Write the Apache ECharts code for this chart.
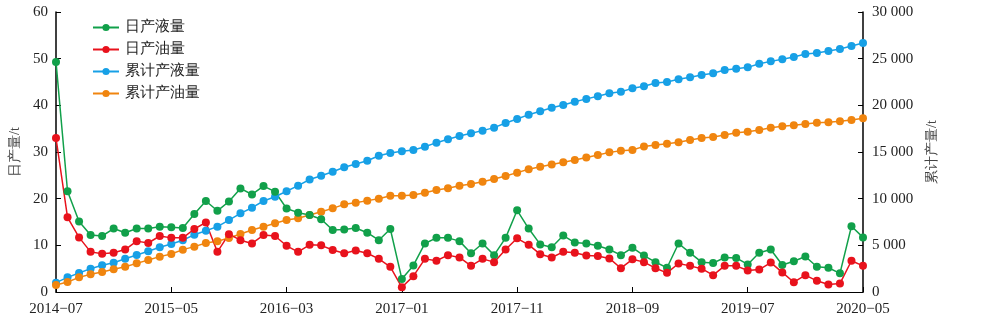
<!DOCTYPE html>
<html><head><meta charset="utf-8">
<script src="https://cdn.jsdelivr.net/npm/echarts@6/dist/echarts.min.js"></script>
<style>html,body{margin:0;padding:0;background:#fff}#c{width:1000px;height:328px}</style>
</head><body><div id="c"></div>
<script>
const months = [
'2014−07','2014−08','2014−09','2014−10','2014−11','2014−12',
'2015−01','2015−02','2015−03','2015−04','2015−05','2015−06','2015−07','2015−08','2015−09','2015−10','2015−11','2015−12',
'2016−01','2016−02','2016−03','2016−04','2016−05','2016−06','2016−07','2016−08','2016−09','2016−10','2016−11','2016−12',
'2017−01','2017−02','2017−03','2017−04','2017−05','2017−06','2017−07','2017−08','2017−09','2017−10','2017−11','2017−12',
'2018−01','2018−02','2018−03','2018−04','2018−05','2018−06','2018−07','2018−08','2018−09','2018−10','2018−11','2018−12',
'2019−01','2019−02','2019−03','2019−04','2019−05','2019−06','2019−07','2019−08','2019−09','2019−10','2019−11','2019−12',
'2020−01','2020−02','2020−03','2020−04','2020−05'];
const dailyLiquid = [49.3,21.6,15.1,12.2,12.0,13.6,12.7,13.6,13.6,14.0,13.9,13.7,16.7,19.5,17.4,19.4,22.2,20.9,22.7,21.5,17.9,17.0,16.5,15.6,13.3,13.4,13.7,12.7,11.1,13.5,2.8,5.7,10.4,11.6,11.6,10.9,8.3,10.4,7.9,11.6,17.5,13.6,10.2,9.6,12.1,10.6,10.4,9.9,9.1,7.9,9.5,7.8,6.4,5.2,10.4,8.4,6.4,6.2,7.4,7.3,5.9,8.4,9.1,5.8,6.6,7.6,5.4,5.2,4.0,14.1,11.7];
const dailyOil = [33.0,16.0,11.7,8.6,8.2,8.4,9.1,10.9,10.5,12.0,11.6,11.6,13.5,14.9,8.6,12.4,11.1,10.4,12.2,12.0,9.9,8.6,10.1,10.0,9.0,8.3,8.9,8.3,7.1,5.4,1.0,3.4,7.1,6.7,7.9,7.4,5.6,7.1,6.4,9.1,11.5,10.1,8.1,7.4,8.6,8.4,7.8,7.7,7.2,5.1,7.0,6.4,5.1,4.1,6.1,5.6,5.0,3.6,5.6,5.6,4.6,4.8,6.3,4.2,2.1,3.6,2.4,1.6,1.8,6.7,5.6];
const cumLiquid = [1000,1570,2030,2500,2860,3140,3570,3960,4360,4790,5140,5540,6140,6570,7000,7710,8430,9030,9750,10210,10790,11390,12050,12450,12890,13360,13710,14060,14600,14890,15070,15210,15570,16000,16360,16710,17000,17290,17610,18110,18540,19000,19360,19750,20040,20390,20690,20980,21290,21460,21820,22040,22390,22500,22790,23000,23250,23430,23790,23930,24070,24460,24710,24930,25180,25500,25610,25820,26040,26360,26680];
const cumOil = [750,1070,1570,1890,2140,2430,2710,3070,3430,3790,4070,4540,4860,5250,5430,5790,6210,6640,7000,7360,7710,7900,8250,8600,8960,9390,9570,9790,10000,10320,10320,10390,10640,10930,11110,11390,11570,11820,12110,12430,12790,13150,13420,13650,13910,14140,14410,14680,14960,15140,15210,15600,15750,15890,16040,16290,16500,16610,16820,17070,17180,17360,17610,17750,17860,18000,18140,18180,18290,18430,18610];
const names = ['日产液量','日产油量','累计产液量','累计产油量'];
const colors = ['#11a04a','#e8121c','#17a0e6','#f0850f'];
const font = '"Liberation Serif","DejaVu Serif",serif';

function fmtThousands(v){
  if (v < 1000) return String(v);
  const s = String(v);
  return s.slice(0, s.length-3) + ' ' + s.slice(-3);
}

const chart = echarts.init(document.getElementById('c'), null, {renderer:'canvas'});
const mk = (i, data, yIdx) => ({
  name: names[i], type:'line', data: data, yAxisIndex: yIdx,
  symbol:'circle', symbolSize:8, showSymbol:true, showAllSymbol:true,
  lineStyle:{width:1.5, color:colors[i]}, itemStyle:{color:colors[i]},
  animation:false
});
chart.setOption({
  animation:false,
  textStyle:{fontFamily:font},
  grid:{left:54, right:137, top:12, bottom:36, containLabel:false},
  legend:{
    orient:'vertical', left:87, top:15, itemGap:7, itemWidth:26, itemHeight:9,
    textStyle:{fontFamily:font, fontSize:15, color:'#222', padding:[0,0,0,1]},
    data: names
  },
  xAxis:{
    type:'category', data:months, boundaryGap:false,
    axisLine:{lineStyle:{color:'#000', width:1.2}},
    axisTick:{inside:true, length:5, interval:9, alignWithLabel:true, lineStyle:{color:'#000'}},
    axisLabel:{interval:9, fontFamily:font, fontSize:15, color:'#222', margin:10},
    splitLine:{show:false}
  },
  yAxis:[{
    type:'value', min:0, max:60, interval:10, position:'left',
    name:'日产量/t', nameLocation:'middle', nameRotate:90, nameGap:34,
    nameTextStyle:{fontFamily:font, fontSize:14, color:'#444'},
    axisLine:{show:true, lineStyle:{color:'#000', width:1.5}},
    axisTick:{show:true, inside:true, length:5, lineStyle:{color:'#000'}},
    axisLabel:{fontFamily:font, fontSize:15, color:'#222', margin:8},
    splitLine:{show:false}
  },{
    type:'value', min:0, max:30000, interval:5000, position:'right',
    name:'累计产量/t', nameLocation:'middle', nameRotate:90, nameGap:62,
    nameTextStyle:{fontFamily:font, fontSize:14, color:'#444'},
    axisLine:{show:true, lineStyle:{color:'#000', width:1.5}},
    axisTick:{show:true, inside:true, length:5, lineStyle:{color:'#000'}},
    axisLabel:{fontFamily:font, fontSize:15, color:'#222', margin:9, formatter:fmtThousands},
    splitLine:{show:false}
  }],
  series:[
    mk(2, cumLiquid, 1),
    mk(3, cumOil, 1),
    mk(0, dailyLiquid, 0),
    mk(1, dailyOil, 0)
  ]
});
</script></body></html>
